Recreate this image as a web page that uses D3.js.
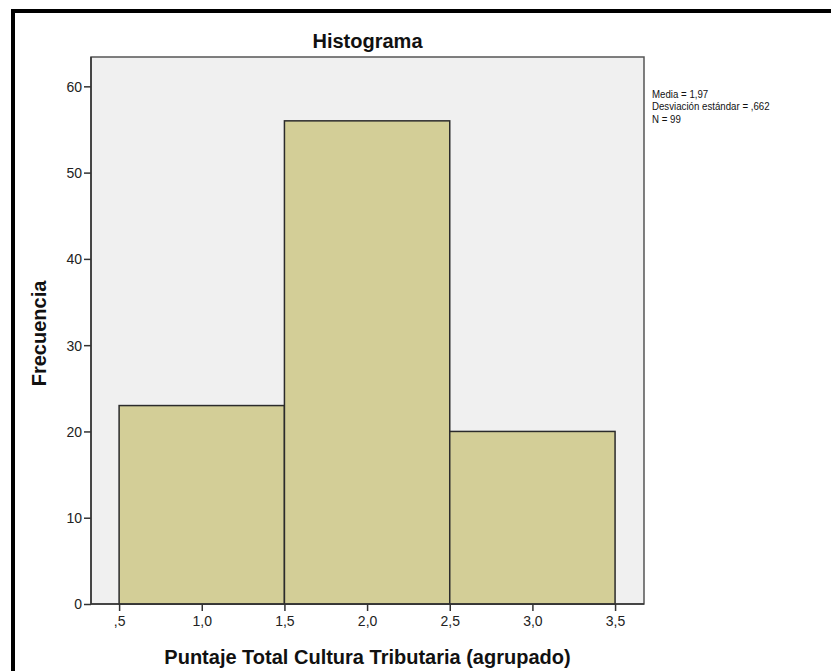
<!DOCTYPE html>
<html>
<head>
<meta charset="utf-8">
<script src="https://cdn.jsdelivr.net/npm/d3@7"></script>
<style>
  body { margin: 0; background: #fff; }
  svg { display: block; font-family: "Liberation Sans", Arial, sans-serif; }
</style>
</head>
<body>
<div id="chart"></div>
<script>
// Histogram bins (lower edge, upper edge, frequency)
const binStarts = [0.5, 1.5, 2.5];
const binEnds = [1.5, 2.5, 3.5];
const frequencies = [23, 56, 20];
const xTicks = [0.5, 1.0, 1.5, 2.0, 2.5, 3.0, 3.5];
const xTickLabels = [',5', '1,0', '1,5', '2,0', '2,5', '3,0', '3,5'];
const yTicks = [0, 10, 20, 30, 40, 50, 60];
const statsLines = ['Media = 1,97', 'Desviación estándar = ,662', 'N = 99'];

const W = 831, H = 671;
const plot = { left: 91, right: 644, top: 57, bottom: 604 };

const svg = d3.select('#chart').append('svg')
  .attr('width', W).attr('height', H);

// outer frame
svg.append('path')
  .attr('d', `M13,${H + 5} L13,11 L${W + 5},11`)
  .attr('fill', 'none').attr('stroke', '#000').attr('stroke-width', 4);

const x = d3.scaleLinear().domain([0.33, 3.675]).range([plot.left, plot.right]);
const y = d3.scaleLinear().domain([0, 63.4]).range([plot.bottom, plot.top]);

// plot background
svg.append('rect')
  .attr('x', plot.left).attr('y', plot.top)
  .attr('width', plot.right - plot.left).attr('height', plot.bottom - plot.top)
  .attr('fill', '#f0f0f0').attr('stroke', '#555').attr('stroke-width', 1.5);

// bars
svg.append('g').selectAll('rect')
  .data(frequencies)
  .join('rect')
  .attr('x', (d, i) => x(binStarts[i]))
  .attr('y', d => y(d))
  .attr('width', (d, i) => x(binEnds[i]) - x(binStarts[i]))
  .attr('height', d => y(0) - y(d))
  .attr('fill', '#d3ce97')
  .attr('stroke', '#2b2b2b').attr('stroke-width', 1.5);

// axes
const xAxis = svg.append('g')
  .attr('transform', `translate(0,${plot.bottom})`)
  .call(d3.axisBottom(x).tickValues(xTicks).tickSize(7).tickPadding(5)
    .tickFormat((d, i) => xTickLabels[i]));
const yAxis = svg.append('g')
  .attr('transform', `translate(${plot.left},0)`)
  .call(d3.axisLeft(y).tickValues(yTicks).tickSize(7).tickPadding(2));

[xAxis, yAxis].forEach(a => {
  a.select('.domain').remove();
  a.selectAll('line').attr('stroke', '#333').attr('stroke-width', 1.5);
  a.selectAll('text').attr('fill', '#222').style('font-size', '14px');
});
yAxis.selectAll('text').attr('dy', '0.35em');
svg.append('line')
  .attr('x1', plot.left).attr('x2', plot.left)
  .attr('y1', plot.top).attr('y2', plot.bottom)
  .attr('stroke', '#333').attr('stroke-width', 1.5);
svg.append('line')
  .attr('x1', plot.left).attr('x2', plot.right)
  .attr('y1', plot.bottom).attr('y2', plot.bottom)
  .attr('stroke', '#333').attr('stroke-width', 1.5);

// title
svg.append('text')
  .attr('x', (plot.left + plot.right) / 2).attr('y', 48)
  .attr('text-anchor', 'middle').style('font-size', '20px').attr('font-weight', 'bold')
  .attr('fill', '#111').text('Histograma');

// axis titles
svg.append('text')
  .attr('x', (plot.left + plot.right) / 2).attr('y', 664)
  .attr('text-anchor', 'middle').style('font-size', '20px').attr('font-weight', 'bold')
  .attr('fill', '#111').text('Puntaje Total Cultura Tributaria (agrupado)');
svg.append('text')
  .attr('transform', `translate(46,${(plot.top + plot.bottom) / 2 + 3}) rotate(-90)`)
  .attr('text-anchor', 'middle').style('font-size', '20px').attr('font-weight', 'bold')
  .attr('fill', '#111').text('Frecuencia');

// stats box
const stats = svg.append('g').attr('transform', 'translate(652,98) scale(0.88,1)');
stats.selectAll('text')
  .data(statsLines)
  .join('text')
  .attr('x', 0).attr('y', (d, i) => i * 12.5)
  .style('font-size', '11px').attr('fill', '#111')
  .text(d => d);
</script>
</body>
</html>
